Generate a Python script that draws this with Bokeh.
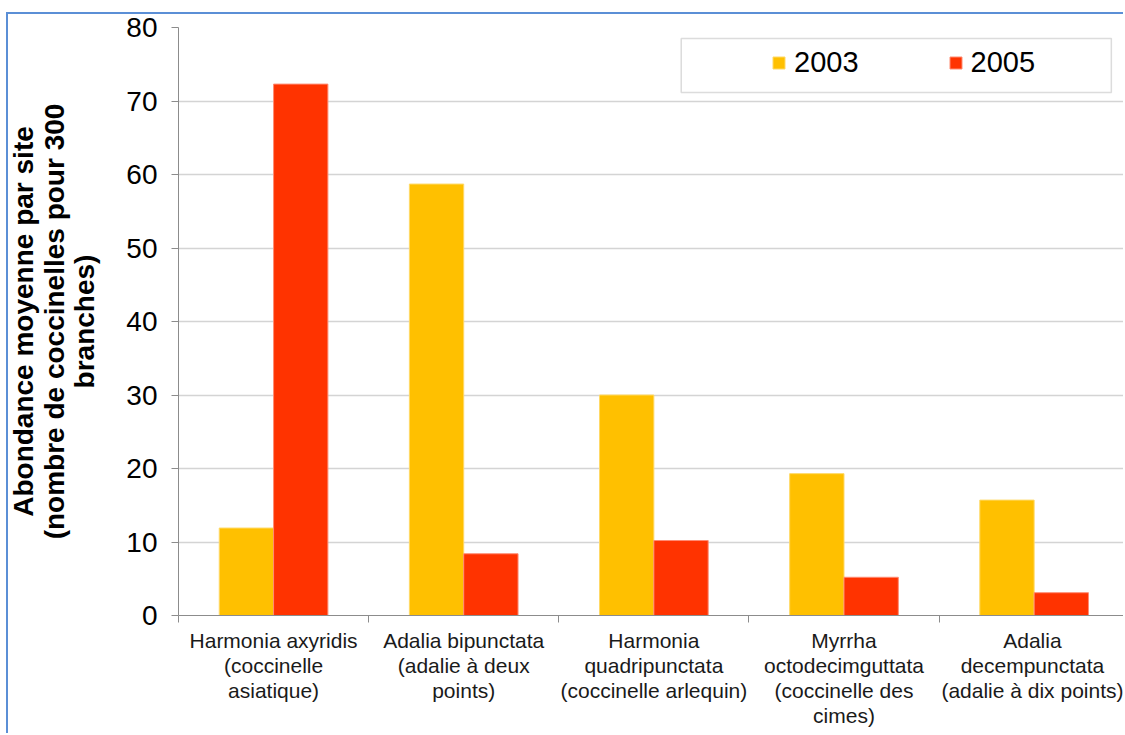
from bokeh.plotting import figure
from bokeh.models import Range1d, FixedTicker, Legend, LegendItem, BoxAnnotation, ColumnDataSource
from bokeh.embed import file_html
from bokeh.resources import INLINE
import numpy as np

categories = [
    "Harmonia axyridis\n(coccinelle\nasiatique)",
    "Adalia bipunctata\n(adalie à deux\npoints)",
    "Harmonia\nquadripunctata\n(coccinelle arlequin)",
    "Myrrha\noctodecimguttata\n(coccinelle des\ncimes)",
    "Adalia\ndecempunctata\n(adalie à dix points)",
]
series_names = ["2003", "2005"]
values_2003 = [11.9, 58.7, 30.0, 19.3, 15.7]
values_2005 = [72.3, 8.4, 10.2, 5.2, 3.1]
y_ticks = [0, 10, 20, 30, 40, 50, 60, 70, 80]
y_title = "Abondance moyenne par site\n(nombre de coccinelles pour 300\nbranches)"

FONT = "Liberation Sans"
BLUE = "#5b8fd6"
n = len(categories)
centers = np.arange(n) + 0.5
bar_w = 1 / 3.5

p = figure(width=1123, height=727,
           x_range=Range1d(0, 4.97), y_range=Range1d(0, 80),
           output_backend="svg", toolbar_location=None,
           min_border_left=178, min_border_top=21, min_border_right=0, min_border_bottom=118)
p.margin = (6, 0, 0, 0)
p.styles = {
    "background": (f"linear-gradient({BLUE}, {BLUE}) 6px 6px / 100% 2px no-repeat, "
                   f"linear-gradient({BLUE}, {BLUE}) 6px 6px / 2px 100% no-repeat, white"),
}
p.outline_line_color = None
p.background_fill_color = "white"
p.border_fill_alpha = 0

src = ColumnDataSource(dict(x03=centers - bar_w / 2, x05=centers + bar_w / 2,
                            v03=values_2003, v05=values_2005))
r1 = p.vbar(x="x03", top="v03", width=bar_w, source=src,
            fill_color="#FFC000", line_color="#FFD966", line_width=1)
r2 = p.vbar(x="x05", top="v05", width=bar_w, source=src,
            fill_color="#FF3300", line_color="#FF8C73", line_width=1)

# grid
p.xgrid.grid_line_color = None
p.ygrid.ticker = FixedTicker(ticks=y_ticks)
p.ygrid.grid_line_color = "#d4d4d4"
p.ygrid.grid_line_width = 1.5

# y axis
ya = p.yaxis[0]
ya.ticker = FixedTicker(ticks=y_ticks, minor_ticks=[])
ya.axis_line_color = "#8c8c8c"
ya.major_tick_line_color = "#8c8c8c"
ya.major_tick_out = 7
ya.major_tick_in = 0
ya.minor_tick_line_color = None
ya.major_label_text_font = FONT
ya.major_label_text_font_size = "28px"
ya.major_label_text_color = "black"
ya.major_label_standoff = 14
ya.axis_label = y_title
ya.axis_label_text_font = FONT
ya.axis_label_text_font_size = "28px"
ya.axis_label_text_font_style = "bold"
ya.axis_label_text_color = "black"
ya.axis_label_text_line_height = 0.99
ya.axis_label_standoff = 23

# x axis
xa = p.xaxis[0]
xa.ticker = FixedTicker(ticks=list(centers), minor_ticks=list(range(n + 1)))
xa.major_label_overrides = {float(c): lab for c, lab in zip(centers, categories)}
xa.axis_line_color = "#8c8c8c"
xa.major_tick_line_color = None
xa.minor_tick_line_color = "#8c8c8c"
xa.minor_tick_out = 7
xa.minor_tick_in = 0
xa.major_label_text_font = FONT
xa.major_label_text_font_size = "21px"
xa.major_label_text_color = "#1a1a1a"
xa.major_label_text_line_height = 1.1
xa.major_label_standoff = 6

# legend box
box = BoxAnnotation(left=2.644, right=4.906, bottom=71.16, top=78.5,
                    fill_color="white", fill_alpha=1,
                    line_color="#8c8c8c", line_width=1.5)
p.add_layout(box)

legend = Legend(items=[LegendItem(label=series_names[0], renderers=[r1]),
                       LegendItem(label=series_names[1], renderers=[r2])],
                orientation="horizontal", location=(593, 536),
                padding=0, margin=0, spacing=89,
                glyph_width=15, glyph_height=15, label_standoff=8,
                label_text_font=FONT, label_text_font_size="29px",
                label_text_color="black",
                border_line_color=None, background_fill_alpha=0)
p.add_layout(legend)

open("out.html", "w").write(file_html(p, INLINE))
